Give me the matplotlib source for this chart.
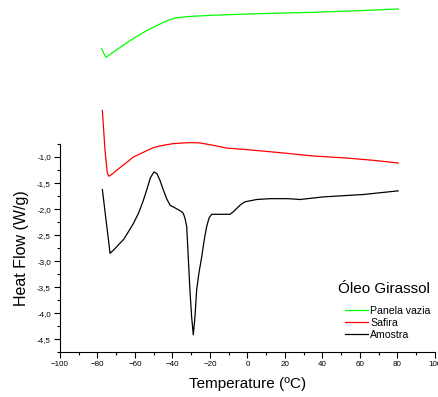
import matplotlib
matplotlib.use("Agg")
import matplotlib.pyplot as plt
from matplotlib.ticker import MultipleLocator, FuncFormatter

plt.rcParams['font.family'] = ['Liberation Sans', 'DejaVu Sans']

# Panela vazia (green)
x_green = [-77.8, -75.5, -69.8, -62.7, -53.8, -44.9, -41.3, -38.7, -36.0, -30.0, -20.0, 0.4, 20.0, 35.1, 60.0, 80.4]
y_green = [1.077, 0.916, 1.058, 1.236, 1.427, 1.586, 1.64, 1.668, 1.682, 1.70, 1.72, 1.747, 1.765, 1.779, 1.81, 1.843]

# Safira (red)
x_red = [-77.4, -76.0, -74.8, -73.9, -71.5, -69.8, -65.0, -60.9, -55.0, -50.2, -45.0, -39.6, -33.0,
         -28.9, -25.3, -18.2, -11.1, -0.4, 17.3, 35.1, 52.9, 67.1, 80.4]
y_red = [-0.105, -0.87, -1.30, -1.37, -1.31, -1.255, -1.12, -1.0, -0.90, -0.82, -0.775, -0.743, -0.727,
         -0.724, -0.73, -0.776, -0.828, -0.858, -0.916, -0.98, -1.02, -1.063, -1.115]

# Amostra (black)
x_black = [-77.4, -73.3, -71.0, -68.9, -66.0, -63.6, -60.9, -58.2, -55.9, -53.8, -51.8, -49.9, -48.3,
           -46.7, -44.9, -43.1, -41.3, -39.6, -37.0, -35.1, -34.2, -33.3, -32.4, -31.6, -30.7, -29.8,
           -28.9, -28.0, -27.1, -25.9, -24.4, -23.1, -21.8, -20.5, -19.1, -14.7, -9.3, -7.5, -5.8,
           -3.5, -1.3, 4.9, 12.0, 21.8, 28.0, 40.4, 61.8, 80.4]
y_black = [-1.625, -2.85, -2.77, -2.69, -2.58, -2.44, -2.28, -2.085, -1.87, -1.64, -1.40, -1.287, -1.32,
           -1.446, -1.63, -1.80, -1.925, -1.958, -2.01, -2.05, -2.085, -2.18, -2.34, -2.915, -3.55, -4.065,
           -4.415, -4.065, -3.55, -3.23, -2.915, -2.6, -2.34, -2.17, -2.10, -2.10, -2.10, -2.05, -1.99,
           -1.91, -1.86, -1.816, -1.80, -1.80, -1.816, -1.766, -1.72, -1.65]

labels = ["Panela vazia", "Safira", "Amostra"]
colors = ["#00ff00", "#ff0000", "#000000"]

fig = plt.figure(figsize=(4.38, 3.97), dpi=100)
ax = fig.add_axes([0.137, 0.1126, 0.856, 0.5247])

ax.plot(x_green, y_green, color=colors[0], lw=0.9, clip_on=False, label=labels[0])
ax.plot(x_red, y_red, color=colors[1], lw=0.9, clip_on=False, label=labels[1])
ax.plot(x_black, y_black, color=colors[2], lw=0.9, clip_on=False, label=labels[2])

ax.set_xlim(-100, 100)
ax.set_ylim(-4.75, -0.75)
ax.spines['top'].set_visible(False)
ax.spines['right'].set_visible(False)
for s in ['left', 'bottom']:
    ax.spines[s].set_linewidth(0.8)

ax.xaxis.set_major_locator(MultipleLocator(20))
ax.xaxis.set_minor_locator(MultipleLocator(10))
ax.yaxis.set_major_locator(MultipleLocator(0.5))
ax.yaxis.set_minor_locator(MultipleLocator(0.25))
ax.yaxis.set_major_formatter(FuncFormatter(lambda v, p: f"{v:.1f}".replace('.', ',')))
ax.tick_params(which='major', direction='out', length=4, width=0.8, labelsize=5.8, pad=2.5)
ax.tick_params(which='minor', direction='out', length=2.2, width=0.8)

ax.set_xlabel("Temperature (ºC)", fontsize=11, labelpad=6.5)
ax.set_ylabel("Heat Flow (W/g)", fontsize=11.5, labelpad=6)

fig.text(384/438, 1 - 289/397, "Óleo Girassol", fontsize=11, ha='center', va='center')
fig.legend(loc='upper left', bbox_to_anchor=(345/438, 1 - 305.5/397), frameon=False,
           fontsize=7.6, handlelength=2.2, handletextpad=0.2, labelspacing=0.22,
           borderpad=0, borderaxespad=0)

fig.savefig("out.png", dpi=100)
